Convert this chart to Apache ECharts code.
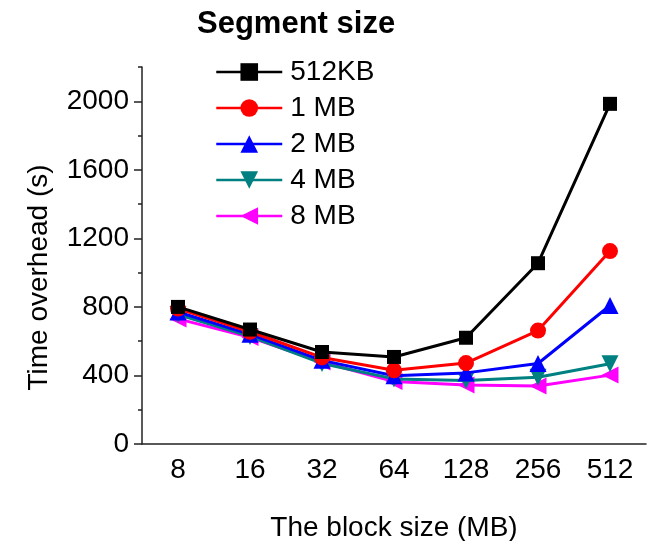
<!DOCTYPE html>
<html>
<head>
<meta charset="utf-8">
<script src="https://cdn.jsdelivr.net/npm/echarts@6/dist/echarts.min.js"></script>
<style>html,body{margin:0;padding:0;background:#fff}#c{width:656px;height:541px}</style>
</head>
<body>
<div id="c"></div>
<script>
const categories = ['8', '16', '32', '64', '128', '256', '512'];
const seriesNames = ['512KB', '1 MB', '2 MB', '4 MB', '8 MB'];
const s512KB = [800, 668, 537, 508, 620, 1055, 1985];
const s1MB = [790, 655, 505, 430, 472, 662, 1126];
const s2MB = [770, 640, 488, 398, 415, 470, 808];
const s4MB = [755, 628, 470, 380, 370, 390, 468];
const s8MB = [730, 622, 478, 365, 345, 338, 402];
const yMajorTicks = [0, 400, 800, 1200, 1600, 2000];
const yMinorTicks = [200, 600, 1000, 1400, 1800, 2200];

const FONT = 'Liberation Sans, Arial, sans-serif';
const colors = ['#000000', '#ff0000', '#0000ff', '#008080', '#ff00ff'];
const symbols = ['rect', 'circle', 'triangle', 'triangle', 'triangle'];
const rotates = [0, 0, 0, 180, 90];
const sizes = [14, 16, 17, 17, 17];
const allData = [s512KB, s1MB, s2MB, s4MB, s8MB];

const chart = echarts.init(document.getElementById('c'));
chart.setOption({
  animation: false,
  backgroundColor: '#fff',
  title: {
    text: 'Segment size', left: 197, top: 9, padding: 0,
    textStyle: { fontFamily: FONT, fontSize: 31, fontWeight: 'bold', color: '#000' }
  },
  legend: {
    orient: 'vertical', left: 215, top: 58, padding: 0,
    itemWidth: 66, itemHeight: 22, itemGap: 8,
    data: seriesNames,
    lineStyle: { width: 2.5 },
    textStyle: { fontFamily: FONT, fontSize: 28, lineHeight: 28, color: '#000', padding: [0, 0, 0, 3] }
  },
  grid: { left: 142, right: 10, top: 67, bottom: 97, containLabel: false, outerBoundsMode: 'none' },
  xAxis: [{
    type: 'category', data: categories, boundaryGap: true,
    name: 'The block size (MB)', nameLocation: 'middle', nameGap: 70,
    nameTextStyle: { fontFamily: FONT, fontSize: 28, color: '#000' },
    axisLine: { lineStyle: { color: '#222', width: 1.5 } },
    axisTick: { alignWithLabel: true, length: 6, lineStyle: { color: '#222', width: 1.5 } },
    axisLabel: { fontFamily: FONT, fontSize: 28, color: '#000', margin: 12 },
    splitLine: { show: false }
  }, {
    type: 'category', data: categories, boundaryGap: true, position: 'bottom',
    axisLine: { show: false },
    axisTick: { length: 3, lineStyle: { color: '#222', width: 1.5 } },
    axisLabel: { show: false }, splitLine: { show: false }
  }],
  yAxis: [{
    type: 'value', min: 0, max: 2200, interval: 200, position: 'left',
    name: 'Time overhead (s)', nameLocation: 'middle', nameGap: 89,
    nameTextStyle: { fontFamily: FONT, fontSize: 28, color: '#000', padding: [0, 44, 0, 0] },
    axisLine: { show: true, lineStyle: { color: '#222', width: 1.5 } },
    axisTick: { show: true, length: 8, customValues: yMajorTicks, lineStyle: { color: '#222', width: 1.5 } },
    axisLabel: { fontFamily: FONT, fontSize: 28, color: '#000', margin: 13, customValues: yMajorTicks,
      formatter: v => String(v) },
    splitLine: { show: false }
  }, {
    type: 'value', min: 0, max: 2200, interval: 200, position: 'left',
    axisLine: { show: false },
    axisTick: { show: true, length: 4, customValues: yMinorTicks, lineStyle: { color: '#222', width: 1.5 } },
    axisLabel: { show: false }, splitLine: { show: false }
  }],
  series: seriesNames.map((n, i) => ({
    name: n, type: 'line', data: allData[i],
    xAxisIndex: 0, yAxisIndex: 0,
    symbol: symbols[i], symbolSize: sizes[i], symbolRotate: rotates[i],
    showAllSymbol: true,
    lineStyle: { color: colors[i], width: 3 },
    itemStyle: { color: colors[i] },
    z: 10 - i
  }))
});
</script>
</body>
</html>
